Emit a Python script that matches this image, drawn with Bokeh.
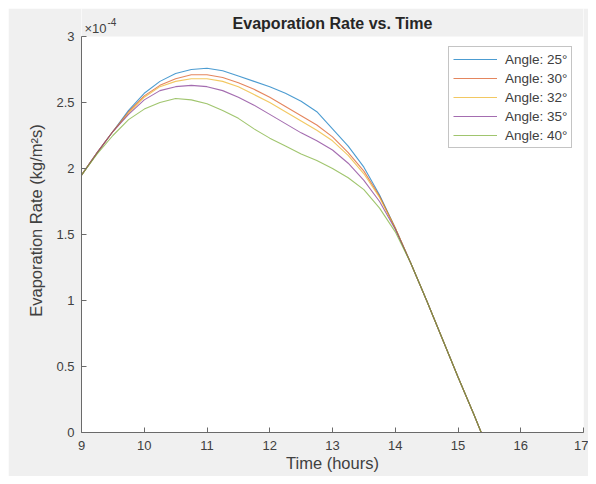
from bokeh.plotting import figure
from bokeh.models import FixedTicker, Label, Range1d, Legend, LegendItem, BoxAnnotation
from bokeh.embed import file_html
from bokeh.resources import INLINE

# Time (hours)
time = [9, 9.25, 9.5, 9.75, 10, 10.25, 10.5, 10.75, 11, 11.25, 11.5, 11.75,
        12, 12.25, 12.5, 12.75, 13, 13.25, 13.5, 13.75, 14, 14.25, 14.5,
        14.75, 15, 15.25, 15.37, 15.5, 16, 16.5, 17]

# Evaporation rate, units of 1e-4 kg/(m^2 s)
angle_25 = [1.95, 2.12, 2.28, 2.44, 2.57, 2.66, 2.72, 2.75, 2.76, 2.74, 2.70, 2.66,
            2.62, 2.57, 2.51, 2.43, 2.30, 2.17, 2.01, 1.80, 1.55, 1.28, 1.00,
            0.71, 0.42, 0.14, 0.0, 0.0, 0.0, 0.0, 0.0]
angle_30 = [1.95, 2.12, 2.28, 2.43, 2.55, 2.63, 2.68, 2.71, 2.71, 2.69, 2.65, 2.60,
            2.54, 2.47, 2.40, 2.33, 2.24, 2.12, 1.98, 1.79, 1.55, 1.28, 1.00,
            0.71, 0.42, 0.14, 0.0, 0.0, 0.0, 0.0, 0.0]
angle_32 = [1.95, 2.12, 2.28, 2.42, 2.54, 2.62, 2.66, 2.68, 2.68, 2.66, 2.62, 2.56,
            2.50, 2.43, 2.36, 2.29, 2.21, 2.10, 1.96, 1.78, 1.55, 1.28, 1.00,
            0.71, 0.42, 0.14, 0.0, 0.0, 0.0, 0.0, 0.0]
angle_35 = [1.95, 2.12, 2.28, 2.41, 2.52, 2.59, 2.62, 2.63, 2.62, 2.59, 2.54, 2.48,
            2.41, 2.34, 2.27, 2.21, 2.14, 2.04, 1.91, 1.75, 1.54, 1.28, 1.00,
            0.71, 0.42, 0.14, 0.0, 0.0, 0.0, 0.0, 0.0]
angle_40 = [1.95, 2.11, 2.25, 2.37, 2.45, 2.50, 2.53, 2.52, 2.49, 2.44, 2.38, 2.30,
            2.23, 2.17, 2.11, 2.06, 2.00, 1.93, 1.84, 1.70, 1.52, 1.28, 1.00,
            0.71, 0.42, 0.14, 0.0, 0.0, 0.0, 0.0, 0.0]

labels = ["Angle: 25°", "Angle: 30°", "Angle: 32°", "Angle: 35°", "Angle: 40°"]
values = [angle_25, angle_30, angle_32, angle_35, angle_40]
colors = ["#0072BD", "#D95319", "#EDB120", "#7E2F8E", "#77AC30"]

x_ticks = [9, 10, 11, 12, 13, 14, 15, 16, 17]
y_ticks = [0, 0.5, 1, 1.5, 2, 2.5, 3]
y_tick_labels = ["0", "0.5", "1", "1.5", "2", "2.5", "3"]
y_max = 3

FONT = "Liberation Sans"
AX = "#6a6a6a"
TXT = "#404040"
BG = "#F0F0F0"

# frame geometry (px): the frame runs up to the figure top; the region above
# y=3 is painted grey so that the title and exponent can sit inside it.
H, W = 468, 580
B_TOP, B_BOT, B_LEFT, B_RIGHT = 0, 44, 73, 5
frame_h = H - B_TOP - B_BOT
gap_above = 28  # px between figure top and y=3
y_top = y_max * frame_h / (frame_h - gap_above)

p = figure(width=W, height=H, output_backend="svg", toolbar_location=None,
           x_range=Range1d(9, 17), y_range=Range1d(0, y_top),
           min_border_left=B_LEFT, min_border_right=B_RIGHT,
           min_border_top=B_TOP, min_border_bottom=B_BOT)
p.margin = (8, 8, 8, 8)
p.background_fill_color = "white"
p.border_fill_color = BG
p.outline_line_color = None
p.grid.visible = False

# grey strip above the axes
p.add_layout(BoxAnnotation(bottom=y_max, fill_color=BG, fill_alpha=1.0,
                           line_color=None, level="underlay"))

for ax in (p.xaxis, p.yaxis):
    ax.axis_line_color = AX
    ax.major_tick_line_color = AX
    ax.minor_tick_line_color = None
    ax.major_tick_in = 5
    ax.major_tick_out = 0
    ax.major_label_text_font = FONT
    ax.major_label_text_font_size = "13px"
    ax.major_label_text_color = TXT
    ax.axis_label_text_font = FONT
    ax.axis_label_text_font_size = "16.5px"
    ax.axis_label_text_font_style = "normal"
    ax.axis_label_text_color = TXT

p.xaxis.ticker = FixedTicker(ticks=x_ticks)
p.yaxis.ticker = FixedTicker(ticks=y_ticks)
p.yaxis.bounds = (0, y_max)
p.yaxis.major_label_overrides = {t: l for t, l in zip(y_ticks, y_tick_labels)}
p.xaxis.major_label_standoff = 8
p.yaxis.major_label_standoff = 7
p.xaxis.axis_label = "Time (hours)"
p.yaxis.axis_label = "Evaporation Rate (kg/m²s)"
p.xaxis.axis_label_standoff = 1
p.yaxis.axis_label_standoff = 8

items = []
for name, vals, col in zip(labels, values, colors):
    r = p.line(time, vals, line_color=col, line_width=1.1, line_alpha=0.7)
    items.append(LegendItem(label=name, renderers=[r]))

legend = Legend(items=items, location=(367, frame_h - 40 - 100))
legend.label_text_font = FONT
legend.label_text_font_size = "13.5px"
legend.label_text_color = TXT
legend.glyph_width = 44
legend.glyph_height = 16
legend.label_height = 16
legend.label_standoff = 8
legend.spacing = 3
legend.padding = 4
legend.margin = 0
legend.border_line_color = "#8a8a8a"
legend.background_fill_color = "white"
legend.background_fill_alpha = 1.0
p.add_layout(legend)

title = Label(x=13, y=y_max, y_offset=13, text="Evaporation Rate vs. Time",
              text_font=FONT, text_font_size="16px", text_font_style="bold",
              text_color="#262626", text_align="center", text_baseline="middle")
p.add_layout(title)

exp_base = Label(x=9, y=y_max, x_offset=3, y_offset=8, text="×10",
                 text_font=FONT, text_font_size="13px", text_color=TXT,
                 text_baseline="middle", text_align="left")
exp_power = Label(x=9, y=y_max, x_offset=26, y_offset=15, text="-4",
                  text_font=FONT, text_font_size="10px", text_color=TXT,
                  text_baseline="middle", text_align="left")
p.add_layout(exp_base)
p.add_layout(exp_power)

open("out.html", "w").write(file_html(p, INLINE))
